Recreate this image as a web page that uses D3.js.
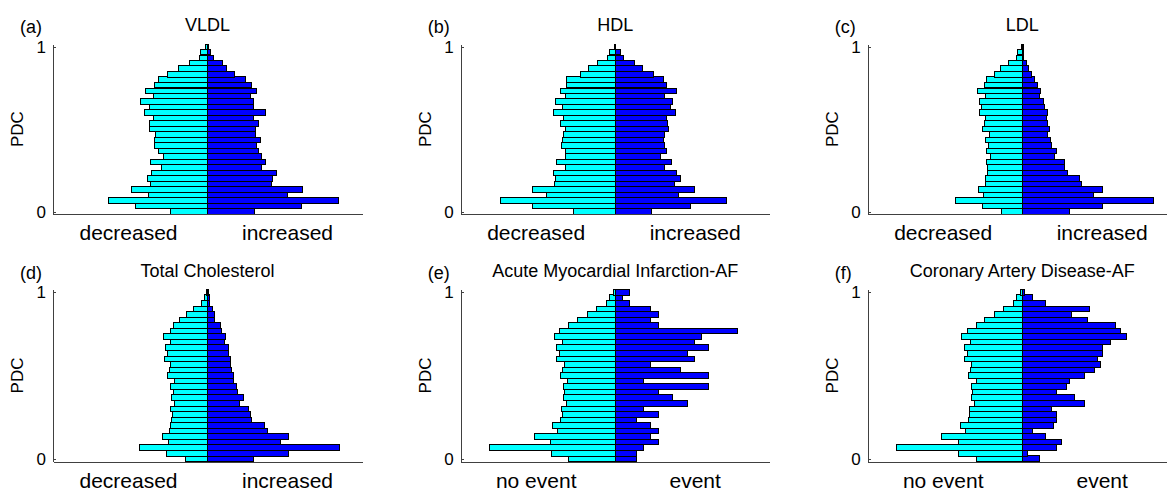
<!DOCTYPE html>
<html>
<head>
<meta charset="utf-8">
<script src="https://cdn.jsdelivr.net/npm/d3@7/dist/d3.min.js"></script>
<style>
body { margin: 0; background: #fff; }
svg text { font-family: "Liberation Sans", Arial, sans-serif; fill: #000; }
.axis path, .axis line { stroke: #404040; stroke-width: 1; shape-rendering: crispEdges; }
.axis text { font-size: 17px; }
.bar { stroke: #000; stroke-width: 1; shape-rendering: crispEdges; }
.neg { fill: #00ffff; }
.pos { fill: #0000ff; }
</style>
</head>
<body>
<svg id="myGraph" width="1167" height="490"></svg>
<script>
// PDC bin centres (0 .. 1, step 1/30)
var pdcBins = [0, 0.033, 0.067, 0.1, 0.133, 0.167, 0.2, 0.233, 0.267, 0.3, 0.333, 0.367, 0.4, 0.433, 0.467, 0.5,
  0.533, 0.567, 0.6, 0.633, 0.667, 0.7, 0.733, 0.767, 0.8, 0.833, 0.867, 0.9, 0.933, 0.967, 1];
var yTicks = [0, 1];

var titles = ["VLDL", "HDL", "LDL", "Total Cholesterol", "Acute Myocardial Infarction-AF", "Coronary Artery Disease-AF"];
var panelLabels = ["(a)", "(b)", "(c)", "(d)", "(e)", "(f)"];
var leftLabels = ["decreased", "decreased", "decreased", "decreased", "no event", "no event"];
var rightLabels = ["increased", "increased", "increased", "increased", "event", "event"];

// bar lengths, bin 0 first (relative units, axis half width = 100)
var vldlDown = [23.9, 46.4, 64.1, 38.2, 49.0, 37.1, 39.1, 36.2, 29.8, 37.1, 28.5, 31.9, 34.5, 34.5, 33.9, 37.8,
  37.8, 35.0, 41.0, 37.8, 43.1, 35.0, 40.3, 34.3, 31.9, 25.9, 18.8, 11.4, 5.0, 4.3, 1.1];
var vldlUp = [30.4, 60.8, 84.8, 51.8, 61.5, 41.6, 42.3, 44.9, 35.2, 37.8, 35.0, 33.0, 31.7, 34.3, 30.9, 30.9,
  33.2, 29.6, 37.8, 29.6, 29.8, 27.8, 31.9, 28.7, 24.6, 17.7, 12.3, 9.7, 3.7, 1.7, 0.6];
var hdlDown = [26.8, 53.7, 74.2, 44.7, 53.7, 39.3, 38.6, 39.9, 31.9, 38.0, 31.9, 31.9, 34.5, 33.9, 33.2, 31.9,
  35.2, 33.2, 39.9, 33.9, 38.6, 31.9, 35.2, 31.3, 31.3, 22.2, 17.5, 11.2, 5.2, 3.9, 0.4];
var hdlUp = [23.7, 48.8, 72.3, 40.8, 51.6, 38.2, 42.1, 39.7, 32.1, 36.2, 29.6, 33.0, 32.1, 31.5, 32.1, 34.3,
  33.7, 33.0, 39.1, 35.6, 37.3, 31.7, 39.7, 33.0, 31.5, 24.6, 17.9, 12.7, 5.2, 3.5, 0.4];
var ldlDown = [13.6, 25.9, 42.9, 25.2, 28.5, 23.9, 23.9, 22.7, 22.7, 23.3, 20.7, 23.3, 22.0, 23.9, 21.4, 25.9,
  24.6, 23.9, 27.8, 26.5, 27.8, 23.9, 29.1, 24.6, 23.3, 18.1, 14.2, 9.1, 3.9, 3.2, 0.6];
var ldlUp = [30.6, 52.2, 84.8, 46.4, 52.0, 38.4, 37.1, 29.1, 27.2, 27.2, 20.7, 22.0, 18.8, 18.1, 16.2, 17.5,
  16.2, 15.5, 16.2, 14.2, 13.6, 11.0, 12.1, 9.7, 8.2, 6.3, 4.3, 3.0, 1.1, 1.1, 0.6];
var tcDown = [14.2, 26.5, 44.0, 25.2, 29.1, 24.6, 23.9, 23.3, 22.7, 23.9, 21.4, 23.3, 22.0, 23.9, 21.4, 25.9,
  24.6, 23.9, 27.8, 25.9, 27.2, 23.9, 28.5, 23.9, 22.0, 18.1, 13.6, 9.1, 3.7, 2.2, 0.6];
var tcUp = [29.8, 52.2, 85.7, 47.2, 52.4, 38.8, 36.9, 28.5, 27.8, 26.5, 20.7, 23.3, 19.4, 18.8, 16.8, 16.8,
  15.5, 14.9, 14.9, 13.6, 13.6, 11.0, 11.7, 9.1, 8.4, 4.5, 4.5, 3.0, 1.3, 1.1, 0.6];
var amiNoEvent = [30.0, 41.0, 81.1, 41.6, 52.2, 37.1, 40.3, 35.2, 33.9, 34.5, 31.3, 33.2, 32.6, 33.2, 30.6, 35.2,
  33.9, 33.0, 37.8, 35.8, 37.8, 33.9, 39.1, 35.8, 30.0, 24.6, 18.1, 12.3, 5.8, 3.9, 1.3];
var amiEvent = [14.0, 14.0, 18.6, 27.8, 23.1, 27.8, 23.1, 14.0, 27.8, 18.6, 46.8, 37.3, 27.8, 60.6, 18.6, 60.6,
  42.1, 23.1, 51.6, 46.8, 60.6, 51.3, 56.1, 79.4, 27.8, 23.1, 27.8, 23.1, 9.5, 4.7, 9.5];
var cadNoEvent = [29.8, 41.4, 81.3, 41.4, 52.2, 36.9, 40.1, 35.0, 34.3, 34.3, 31.1, 33.0, 32.4, 33.0, 29.8, 35.0,
  33.7, 33.0, 37.5, 35.6, 37.5, 33.7, 39.1, 35.6, 29.8, 24.6, 17.9, 12.1, 5.6, 3.7, 1.1];
var cadEvent = [11.4, 3.7, 22.0, 25.5, 15.3, 6.9, 20.1, 22.0, 22.0, 18.8, 40.3, 33.9, 22.2, 28.7, 30.6, 40.3,
  46.8, 50.7, 48.8, 52.0, 52.0, 57.4, 67.5, 63.9, 60.6, 42.3, 31.9, 43.6, 15.3, 6.9, 1.7];

var leftSeries = [vldlDown, hdlDown, ldlDown, tcDown, amiNoEvent, cadNoEvent];
var rightSeries = [vldlUp, hdlUp, ldlUp, tcUp, amiEvent, cadEvent];

// layout
var colLeft = [53, 460.7, 867.7];
var rowTop = [44, 289.5];
var rowBottom = [214.3, 461.5];
var plotWidth = 309;
var halfBin = 1 / 60;

var svg = d3.select("#myGraph");

for (var p = 0; p < 6; p++) {
  drawPanel(p, colLeft[p % 3], rowTop[Math.floor(p / 3)], rowBottom[Math.floor(p / 3)]);
}

function drawPanel(p, left, top, bottom) {
  var g = svg.append("g");

  var x = d3.scaleLinear().domain([-100, 100]).range([left, left + plotWidth]);
  var y = d3.scaleLinear().domain([-halfBin, 1 + halfBin]).range([bottom, top]);
  var x0 = x(0);

  // cyan bars (left side)
  g.selectAll("rect.neg")
    .data(leftSeries[p])
    .enter()
    .append("rect")
    .attr("class", "bar neg")
    .attr("x", function(d) { return x(-d); })
    .attr("y", function(d, i) { return y(pdcBins[i] + halfBin); })
    .attr("width", function(d) { return x0 - x(-d); })
    .attr("height", function(d, i) { return y(pdcBins[i] - halfBin) - y(pdcBins[i] + halfBin); });

  // blue bars (right side)
  g.selectAll("rect.pos")
    .data(rightSeries[p])
    .enter()
    .append("rect")
    .attr("class", "bar pos")
    .attr("x", x0)
    .attr("y", function(d, i) { return y(pdcBins[i] + halfBin); })
    .attr("width", function(d) { return x(d) - x0; })
    .attr("height", function(d, i) { return y(pdcBins[i] - halfBin) - y(pdcBins[i] + halfBin); });

  // y axis, ticks pointing inward
  g.append("g")
    .attr("class", "axis")
    .attr("transform", "translate(" + left + ",0)")
    .call(d3.axisLeft(y).tickValues(yTicks).tickFormat(d3.format("d")).tickSize(-3).tickSizeOuter(0).tickPadding(7));

  // x axis: just the base line
  g.append("g")
    .attr("class", "axis")
    .attr("transform", "translate(0," + bottom + ")")
    .call(d3.axisBottom(x).tickValues([]).tickSizeOuter(0));

  // texts
  g.append("text")
    .attr("x", left - 33).attr("y", top - 11)
    .style("font-size", "18px")
    .text(panelLabels[p]);

  g.append("text")
    .attr("x", x0).attr("y", top - 13)
    .attr("text-anchor", "middle")
    .style("font-size", "18px")
    .text(titles[p]);

  g.append("text")
    .attr("transform", "translate(" + (left - 30) + "," + ((top + bottom) / 2) + ") rotate(-90)")
    .attr("text-anchor", "middle")
    .style("font-size", "17px")
    .text("PDC");

  g.append("text")
    .attr("x", x0 - 79).attr("y", bottom + 26)
    .attr("text-anchor", "middle")
    .style("font-size", "21px")
    .text(leftLabels[p]);

  g.append("text")
    .attr("x", x0 + 80).attr("y", bottom + 26)
    .attr("text-anchor", "middle")
    .style("font-size", "21px")
    .text(rightLabels[p]);
}
</script>
</body>
</html>
